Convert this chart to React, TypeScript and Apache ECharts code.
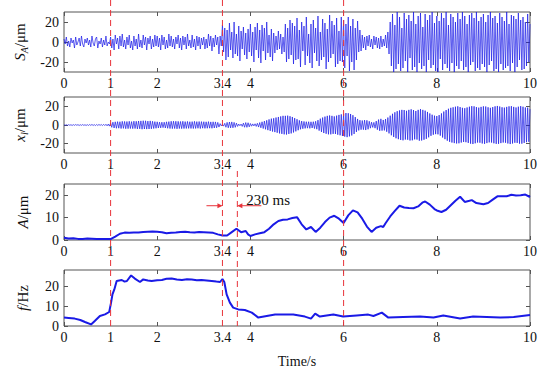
import React, { useEffect, useRef } from "react";
import * as echarts from "echarts";

// ---------- data ----------
const xTickLabels = [0, 1, 2, 3.4, 4, 6, 8, 10];
const xTickMarks = [0, 2, 4, 6, 8, 10];
const symTicks = [-20, 0, 20];
const posTicks = [0, 10, 20];
const markerTimes = [1, 3.4, 6];
const delayedMarker = 3.72;
const delayLabel = "230 ms";
const sampleStep = 0.025; // s between samples of the dense signals

// S_A (µm), 40 samples per second
const sA = [
  3, -2, 5, -4, 1, -5, 4, -1, 2, -6, 5, -3, 0, 4, -4, 6, -2, -5, 3, -1,
  4, -3, 2, -5, 6, -1, -4, 3, 5, -6, 1, -2, 4, -5, 2, -3, 6, -4, 0, -2,
  5, -6, 3, -8, 7, -2, 4, -7, 6, -4, 8, -5, 2, -7, 5, -3, 7, -6, 1, -8,
  6, -4, 3, -7, 8, -5, 2, -6, 7, -3, 5, -8, 4, -2, 6, -7, 3, -5, 7, -4,
  6, -5, 4, -8, 7, -3, 5, -7, 2, -6, 8, -4, 6, -5, 3, -7, 5, -2, 7, -6,
  4, -8, 6, -3, 5, -7, 8, -4, 2, -6, 7, -5, 3, -8, 6, -4, 5, -7, 4, -3,
  5, -7, 3, -6, 8, -4, 6, -9, 4, -5, 7, -3, 5, -12, 6, -4, 17, -10, 14, -18,
  12, -15, 19, -8, 10, -16, 20, -12, 8, -14, 16, -19, 11, -7, 15, -13, 9, -17, 13, -10,
  18, -14, 10, -20, 15, -8, 19, -16, 12, -21, 17, -9, 14, -18, 20, -11, 7, -15, 13, -19,
  9, -11, 6, -8, 11, -7, 8, -12, 5, -10, 18, -20, 14, -17, 22, -13, 19, -22, 16, -18,
  24, -17, 12, -25, 20, -9, 16, -23, 25, -14, 8, -21, 18, -26, 22, -11, 14, -19, 26, -24,
  10, -18, 23, -15, 19, -27, 13, -20, 27, -16, 21, -12, 17, -25, 24, -22, 11, -19, 25, -20,
  22, -26, 18, -14, 25, -29, 16, -20, 23, -28, 14, -18, 21, -10, 12, -9, 7, -6, 5, -8,
  6, -4, 7, -5, 3, -7, 6, -3, 5, -6, 4, -7, 6, -5, 3, -4, 7, -6, 10, -12,
  20, -24, 28, -30, 17, -27, 30, -22, 25, -29, 14, -26, 29, -19, 23, -30, 27, -16, 21, -28,
  30, -25, 18, -30, 26, -21, 29, -27, 15, -24, 28, -30, 22, -18, 27, -26, 30, -23, 19, -29,
  26, -30, 21, -17, 29, -28, 24, -22, 30, -26, 17, -29, 28, -21, 25, -30, 20, -24, 29, -27,
  23, -19, 30, -28, 26, -25, 18, -30, 27, -23, 29, -20, 24, -29, 30, -26, 21, -28, 25, -22,
  28, -25, 20, -30, 27, -23, 30, -19, 24, -29, 26, -27, 19, -30, 29, -22, 25, -28, 21, -26,
  30, -24, 18, -29, 27, -21, 26, -30, 23, -25, 29, -18, 22, -28, 25, -27, 20, -24, 28, -20,
  18,
];

// x_l (µm), 40 samples per second
const xl = [
  0.2, -0.3, 0.3, -0.4, 0.4, -0.3, 0.3, -0.5, 0.4, -0.4, 0.5, -0.3, 0.4, -0.5, 0.3, -0.4, 0.5, -0.4, 0.3, -0.5,
  0.4, -0.5, 0.5, -0.4, 0.6, -0.5, 0.4, -0.6, 0.5, -0.5, 0.6, -0.4, 0.5, -0.6, 0.7, -0.6, 0.8, -0.9, 1.0, -1.2,
  2, -2.5, 3, -3.2, 3.4, -3.5, 3.6, -3.4, 3.5, -3.8, 3.9, -3.6, 3.8, -4, 3.7, -3.9, 4, -3.8, 3.6, -3.9,
  4.1, -3.8, 4, -4.2, 4.3, -4.1, 4.4, -4.5, 4.6, -4.3, 4.5, -4.4, 4.2, -4.3, 4.4, -4.1, 4, -3.8, 3.6, -3.5,
  3.4, -3.2, 3, -3.1, 3, -2.8, 3, -3.2, 3.4, -3.5, 3.6, -3.8, 4, -3.9, 4.1, -3.8, 4, -4.1, 3.9, -3.8,
  3.7, -3.9, 4, -3.8, 3.6, -3.7, 3.8, -3.6, 3.5, -3.7, 3.6, -3.8, 3.9, -3.7, 3.6, -3.5, 3.7, -3.8, 3.6, -3.4,
  3.5, -3.6, 3.4, -3.5, 3.6, -3.4, 3.3, -3.5, 3.4, -3.2, 3.3, -3, 2.8, -2.2, 1.5, -1, 0.8, -1.2, 1.8, -2.4,
  2.8, -3, 3.2, -3.1, 3.3, -3, 2.8, -2.5, 2, -1.5, 1, -0.8, 1, -1.5, 2, -2.4, 2.6, -2.5, 2.4, -2,
  1.6, -1.3, 1.2, -1, 1.3, -1.5, 1.8, -2.2, 2.6, -3, 3.4, -3.8, 4.2, -4.6, 5, -5.5, 6, -6.3, 6.8, -7,
  7.2, -7.6, 8, -8.3, 8.6, -9, 9.2, -9.5, 9.8, -10, 9.8, -10.2, 10, -9.6, 9.4, -9, 8.6, -8, 7.4, -6.8,
  6.2, -5.6, 5, -4.6, 4.2, -4, 3.8, -3.6, 3.5, -3.4, 3.5, -3.6, 3.4, -3.2, 3.5, -3.8, 4, -4.5, 5.2, -6,
  6.8, -7.4, 8, -8.6, 9, -9.4, 9.8, -10, 10.2, -10, 9.8, -9.5, 9.2, -9.6, 10, -10.4, 10.8, -11, 11.4, -11.8,
  12, -12.4, 12.8, -13, 12.6, -12.2, 11.8, -11.2, 10.5, -9.6, 8.5, -7.4, 6.5, -5.8, 5.2, -5, 4.8, -5, 5.2, -5.4,
  5, -4.6, 4, -3.4, 3, -2.6, 2.8, -3.4, 4.2, -5, 5.8, -6.2, 6.6, -6, 5.4, -5.8, 6.4, -7.2, 8, -9,
  10, -11, 12, -12.8, 13.6, -14.2, 14.8, -15.2, 15.6, -16, 16.2, -16.4, 16, -15.6, 15.2, -15.8, 16.2, -16.6, 16.8, -16.4,
  16, -15.4, 15, -15.6, 16.2, -16.8, 17, -16.6, 16.2, -15.8, 15.4, -14.8, 14, -13.2, 12.4, -11.6, 11, -10.4, 10, -9.8,
  9.6, -10, 10.6, -11.4, 12.4, -13.4, 14.4, -15.2, 16, -16.8, 17.4, -18, 18.4, -18.8, 19, -19.4, 19.6, -19.8, 20, -19.6,
  19.2, -18.8, 18.4, -18.2, 18, -18.4, 18.8, -19.2, 19.6, -20, 20.2, -20.4, 20, -19.6, 19.2, -18.8, 18.6, -19, 19.4, -19.8,
  20, -20.2, 19.8, -19.4, 19, -18.6, 18.4, -18.8, 19.2, -19.6, 20, -20.2, 20.4, -20.2, 19.8, -19.4, 19, -18.8, 18.6, -19,
  19.4, -19.8, 20, -20.4, 20.2, -19.8, 19.4, -19, 18.8, -19.2, 19.6, -20, 20.2, -20, 19.6, -19.2, 18.8, -18.4, 18.6, -18,
  17,
];

// A (µm): [time s, value]
const aPoints = [
  [0, 1], [0.1, 0.7], [0.2, 0.8], [0.3, 0.5], [0.4, 0.5], [0.5, 0.7], [0.6, 0.6], [0.7, 0.4], [0.8, 0.4], [0.9, 0.5], [1.0, 0.4],
  [1.1, 1.5], [1.2, 2.8], [1.3, 3.3], [1.4, 3.2], [1.5, 3.4], [1.6, 3.3], [1.7, 3.6], [1.8, 3.7], [1.9, 3.8], [2.0, 3.7],
  [2.1, 3.5], [2.2, 3.0], [2.3, 3.2], [2.4, 3.3], [2.5, 3.6], [2.6, 3.7], [2.7, 3.5], [2.8, 3.4], [2.9, 3.6], [3.0, 3.5],
  [3.1, 3.4], [3.2, 3.2], [3.3, 2.5], [3.4, 2.0], [3.5, 2.0], [3.6, 3.5], [3.7, 5.0], [3.8, 3.5], [3.9, 4.0], [3.95, 2.5],
  [4.0, 1.8], [4.1, 2.5], [4.2, 3.0], [4.3, 3.5], [4.4, 5], [4.5, 7], [4.6, 8.5], [4.7, 9], [4.8, 9.2], [4.9, 9.8],
  [5.0, 10.2], [5.1, 7], [5.2, 4.7], [5.3, 5.8], [5.4, 3.6], [5.5, 5.5], [5.6, 8], [5.7, 10], [5.8, 10.8], [5.9, 9.5],
  [6.0, 7.6], [6.1, 11], [6.2, 13.2], [6.3, 12.3], [6.4, 9.5], [6.5, 6], [6.6, 3.6], [6.7, 5.5], [6.8, 6.2], [6.85, 5.8],
  [6.9, 7.5], [7.0, 10.5], [7.1, 13], [7.2, 15.3], [7.3, 14.5], [7.4, 14.3], [7.5, 14.2], [7.6, 15], [7.7, 16.8], [7.75, 17.2],
  [7.85, 15.8], [7.95, 13.8], [8.0, 13.2], [8.1, 12.5], [8.2, 13.5], [8.3, 15.5], [8.4, 17.5], [8.5, 19.3], [8.6, 17], [8.7, 17.5],
  [8.75, 17.8], [8.85, 16.5], [9.0, 16], [9.1, 16.5], [9.2, 18], [9.3, 19.5], [9.4, 19.5], [9.5, 19.5], [9.6, 20.2], [9.7, 19.9],
  [9.8, 20], [9.9, 20.3], [10.0, 19.2],
];

// f (Hz): [time s, value]
const fPoints = [
  [0, 4.2], [0.1, 4.0], [0.23, 3.7], [0.35, 3.0], [0.45, 2], [0.58, 0.8], [0.66, 2.5], [0.77, 5], [0.88, 5.8], [0.97, 7],
  [1.01, 11.7], [1.04, 15.8], [1.08, 18.3], [1.13, 22.5], [1.24, 23], [1.3, 22.2], [1.35, 22.5], [1.44, 25.3], [1.52, 23.7], [1.63, 22],
  [1.70, 23.3], [1.8, 22.8], [1.88, 22.5], [2.0, 22.9], [2.10, 23], [2.2, 23.6], [2.31, 23.7], [2.42, 23.2], [2.53, 23], [2.64, 23.4],
  [2.74, 23.3], [2.85, 22.9], [2.95, 23], [3.06, 22.8], [3.17, 22.5], [3.27, 22.2], [3.35, 22], [3.40, 23.5], [3.44, 22], [3.49, 15.8],
  [3.56, 11.7], [3.63, 9.2], [3.74, 8.3], [3.88, 8], [4.03, 6.7], [4.17, 4.2], [4.35, 5], [4.53, 5.8], [4.74, 5.8], [4.92, 5.8],
  [5.17, 4.7], [5.30, 3.7], [5.39, 6.2], [5.49, 4.7], [5.78, 5.8], [5.99, 4.7], [6.28, 5.3], [6.53, 5.7], [6.64, 5], [6.82, 6.7],
  [6.96, 4.2], [7.28, 4.5], [7.64, 4.7], [7.93, 4.2], [8.14, 5.3], [8.50, 3.7], [8.78, 4.7], [9.07, 4.5], [9.36, 4.2], [9.65, 4.5],
  [10, 5.5],
];

// ---------- styling ----------
const FONT = "Liberation Serif";
const BLUE = "#1a1ae6";
const RED = "#e8333a";
const AXIS = "#555";

const grids = [
  { top: 12, height: 60 },
  { top: 97, height: 56 },
  { top: 184, height: 56 },
  { top: 270, height: 56 },
];
const yRanges = [
  { min: -30, max: 30, ticks: symTicks },
  { min: -30, max: 30, ticks: symTicks },
  { min: 0, max: 25, ticks: posTicks },
  { min: 0, max: 28, ticks: posTicks },
];
const yNames = [
  "{i|S}{sub|A}{n|/μm}",
  "{i|x}{sub|l}{n|/μm}",
  "{i|A}{n|/μm}",
  "{i|f}{n|/Hz}",
];

const richName = {
  i: { fontFamily: FONT, fontStyle: "italic", fontSize: 15, color: "#111" },
  n: { fontFamily: FONT, fontSize: 15, color: "#111" },
  sub: { fontFamily: FONT, fontStyle: "italic", fontSize: 10, color: "#111", padding: [8, 0, 0, 0] },
};

function buildOption() {
  const xAxis: any[] = [];
  const yAxis: any[] = [];
  grids.forEach((g, i) => {
    xAxis.push({
      type: "value",
      gridIndex: i,
      min: 0,
      max: 10,
      position: "bottom",
      axisLine: { show: false, onZero: false },
      splitLine: { show: false },
      axisTick: { inside: true, length: 4, customValues: xTickMarks, lineStyle: { color: AXIS } },
      axisLabel: { customValues: xTickLabels, fontFamily: FONT, fontSize: 14, color: "#111", margin: 4 },
      name: i === 3 ? "Time/s" : "",
      nameLocation: "middle",
      nameGap: 28,
      nameTextStyle: { fontFamily: FONT, fontSize: 14, color: "#111" },
    });
    xAxis.push({
      type: "value",
      gridIndex: i,
      min: 0,
      max: 10,
      position: "top",
      axisLine: { show: false, onZero: false },
      splitLine: { show: false },
      axisTick: { inside: true, length: 4, customValues: xTickMarks, lineStyle: { color: AXIS } },
      axisLabel: { show: false },
    });
    const r = yRanges[i];
    yAxis.push({
      type: "value",
      gridIndex: i,
      min: r.min,
      max: r.max,
      position: "left",
      axisLine: { show: false, onZero: false },
      splitLine: { show: false },
      axisTick: { inside: true, length: 4, customValues: r.ticks, lineStyle: { color: AXIS } },
      axisLabel: { customValues: r.ticks, fontFamily: FONT, fontSize: 14, color: "#111", margin: 5 },
      name: yNames[i],
      nameLocation: "middle",
      nameRotate: 90,
      nameGap: 34,
      nameTextStyle: { rich: richName },
    });
    yAxis.push({
      type: "value",
      gridIndex: i,
      min: r.min,
      max: r.max,
      position: "right",
      axisLine: { show: false, onZero: false },
      splitLine: { show: false },
      axisTick: { inside: true, length: 4, customValues: r.ticks, lineStyle: { color: AXIS } },
      axisLabel: { show: false },
    });
  });

  const dense = (arr: number[]) => arr.map((v, k) => [k * sampleStep, v]);

  return {
    animation: false,
    backgroundColor: "#fff",
    grid: grids.map((g) => ({
      left: 64,
      right: 15,
      top: g.top,
      height: g.height,
      show: true,
      borderColor: AXIS,
      borderWidth: 1,
      backgroundColor: "transparent",
    })),
    xAxis,
    yAxis,
    series: [
      {
        type: "line", xAxisIndex: 0, yAxisIndex: 0, data: dense(sA), showSymbol: false,
        lineStyle: { color: BLUE, width: 0.7 },
      },
      {
        type: "line", xAxisIndex: 2, yAxisIndex: 2, data: dense(xl), showSymbol: false,
        lineStyle: { color: BLUE, width: 0.7 },
      },
      {
        type: "line", xAxisIndex: 4, yAxisIndex: 4, data: aPoints, showSymbol: false,
        lineStyle: { color: BLUE, width: 2 },
      },
      {
        type: "line", xAxisIndex: 6, yAxisIndex: 6, data: fPoints, showSymbol: false,
        lineStyle: { color: BLUE, width: 2 },
      },
    ],
  };
}

export default function App() {
  const ref = useRef<HTMLDivElement>(null);
  useEffect(() => {
    const chart = echarts.init(ref.current!, null, { renderer: "svg" });
    chart.setOption(buildOption() as any);

    const px = (v: number) => chart.convertToPixel({ xAxisIndex: 0 }, v) as number;
    const yBottom = chart.convertToPixel({ yAxisIndex: 6 }, 0) as number;
    const yPlot2Bottom = chart.convertToPixel({ yAxisIndex: 2 }, -30) as number;
    const yArrow = chart.convertToPixel({ yAxisIndex: 4 }, 15.3) as number;
    const dash = { stroke: RED, lineWidth: 1, lineDash: [6, 4] };

    const graphic: any[] = markerTimes.map((t) => ({
      type: "line",
      z: 100,
      silent: true,
      shape: { x1: px(t), y1: 0, x2: px(t), y2: yBottom },
      style: dash,
    }));
    const xd = px(delayedMarker);
    const x34 = px(3.4);
    graphic.push({
      type: "line", z: 100, silent: true,
      shape: { x1: xd, y1: yPlot2Bottom + 18, x2: xd, y2: yBottom },
      style: dash,
    });
    graphic.push({
      type: "line", z: 100, silent: true,
      shape: { x1: x34 - 16, y1: yArrow, x2: x34 - 1, y2: yArrow },
      style: { stroke: RED, lineWidth: 1 },
    });
    graphic.push({
      type: "polygon", z: 100, silent: true,
      shape: { points: [[x34, yArrow], [x34 - 5, yArrow - 2.5], [x34 - 5, yArrow + 2.5]] },
      style: { fill: RED },
    });
    graphic.push({
      type: "line", z: 100, silent: true,
      shape: { x1: xd + 1, y1: yArrow, x2: xd + 24, y2: yArrow },
      style: { stroke: RED, lineWidth: 1 },
    });
    graphic.push({
      type: "polygon", z: 100, silent: true,
      shape: { points: [[xd, yArrow], [xd + 5, yArrow - 2.5], [xd + 5, yArrow + 2.5]] },
      style: { fill: RED },
    });
    graphic.push({
      type: "text", z: 100, silent: true,
      x: xd + 9, y: yArrow - 6,
      style: {
        text: delayLabel, fontFamily: FONT, fontSize: 15, fill: "#111",
        verticalAlign: "middle", align: "left",
      },
    });
    chart.setOption({ graphic });
    return () => chart.dispose();
  }, []);
  return (
    <div
      ref={ref}
      style={{ position: "fixed", left: 0, top: 0, width: 545, height: 373, background: "#fff" }}
    />
  );
}
